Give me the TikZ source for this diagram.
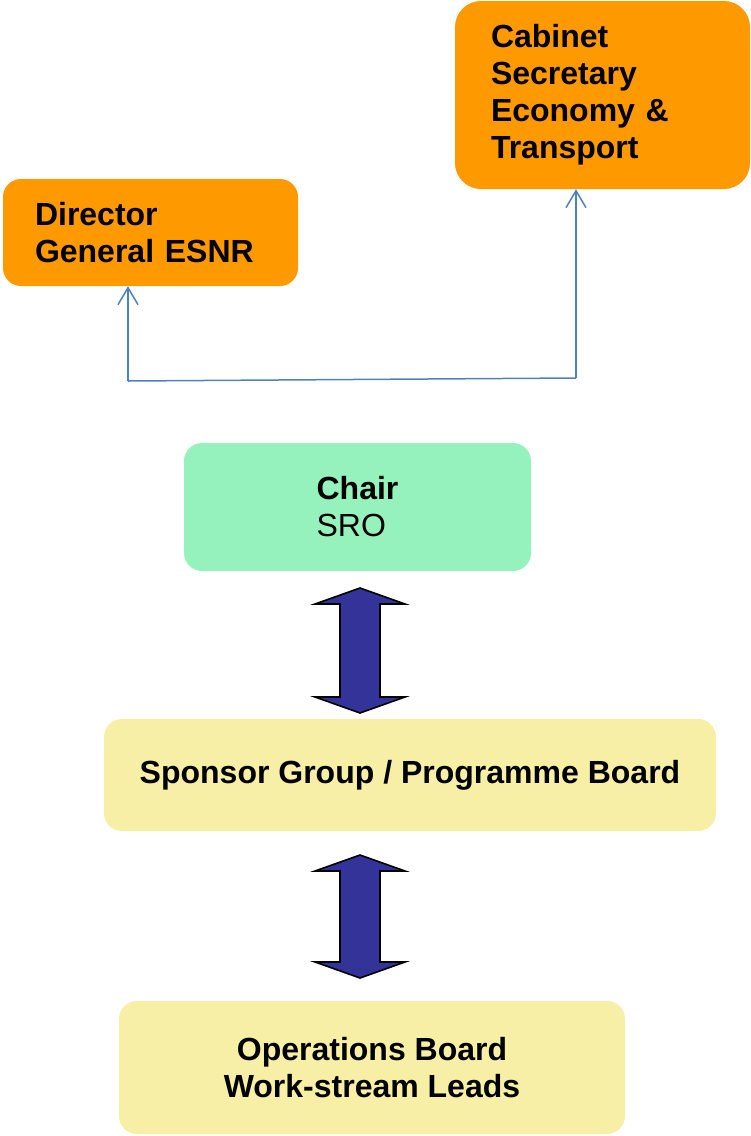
\documentclass[tikz,border=0pt]{standalone}
\usepackage{fontspec}
\setmainfont{Liberation Sans}
\usepackage{tikz}
\usetikzlibrary{arrows.meta}

\definecolor{boxorange}{RGB}{255,153,0}
\definecolor{boxgreen}{RGB}{150,242,188}
\definecolor{boxyellow}{RGB}{248,239,166}
\definecolor{linkblue}{RGB}{79,129,189}
\definecolor{arrowblue}{RGB}{51,51,153}

\tikzset{
  box/.style={rounded corners=18, inner sep=0pt, font=\bfseries\fontsize{32}{37}\selectfont},
  topbox/.style={box, fill=boxorange, align=left},
  chairbox/.style={box, fill=boxgreen, align=left},
  boardbox/.style={box, fill=boxyellow, align=center},
  link/.style={draw=linkblue, line width=1.5pt},
  uplink/.style={link, -{Straight Barb[length=17pt,width=20pt]}},
  blockarrow/.style={fill=arrowblue, draw=black, line width=1.6pt, line join=miter}
}

\begin{document}
\begin{tikzpicture}[x=1pt,y=-1pt]
  \useasboundingbox (0,0) rectangle (751,1136);

  % reporting lines at the top
  \node[topbox, minimum width=295, minimum height=107, text width=231, inner xsep=32] (director) at (150.5,232.5) {Director\\General ESNR};
  \node[topbox, minimum width=295, minimum height=188, text width=223, inner xsep=36, rounded corners=26] (cabinet) at (602.5,95) {Cabinet\\Secretary\\Economy \&\\Transport};

  \coordinate (lcorner) at (128,381);
  \coordinate (rcorner) at (576,378);
  \draw[link] (lcorner) -- (rcorner);
  \draw[uplink] (lcorner) -- (lcorner |- director.south);
  \draw[uplink] (rcorner) -- (rcorner |- cabinet.south);

  % the boards
  \node[chairbox, minimum width=347, minimum height=128] (chair) at (357.5,507) {Chair\\\mdseries SRO};
  \node[boardbox, minimum width=612, minimum height=112] (sponsor) at (410,775) {Sponsor Group / Programme Board};
  \node[boardbox, minimum width=506, minimum height=133] (operations) at (372,1067.5) {Operations Board\\Work-stream Leads};

  % two-way block arrows
  \coordinate (tipa) at (360,588);
  \coordinate (tipb) at (360,855);
  \draw[blockarrow] (tipa) -- ++(45,16) -- ++(-25,0) -- ++(0,93) -- ++(25,0) -- ++(-45,16)
        -- ++(-45,-16) -- ++(25,0) -- ++(0,-93) -- ++(-25,0) -- cycle;
  \draw[blockarrow] (tipb) -- ++(45,16) -- ++(-25,0) -- ++(0,91) -- ++(25,0) -- ++(-45,16)
        -- ++(-45,-16) -- ++(25,0) -- ++(0,-91) -- ++(-25,0) -- cycle;
\end{tikzpicture}
\end{document}
